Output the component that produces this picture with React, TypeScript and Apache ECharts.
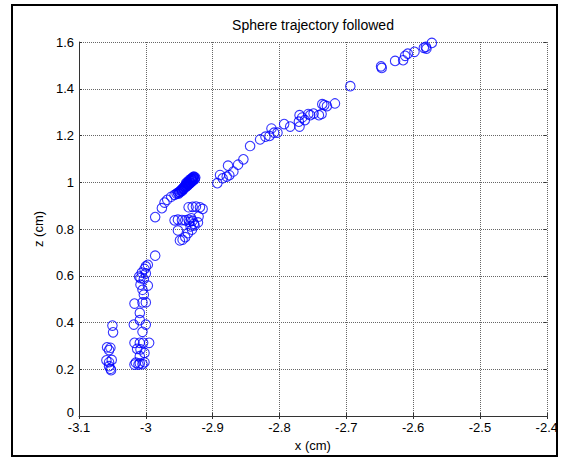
import React, { useEffect, useRef } from "react";
import * as echarts from "echarts";

const titleText = "Sphere trajectory followed";
const xName = "x (cm)";
const zName = "z (cm)";

const xValues: number[] = [
  -2.572, -2.581, -2.584, -2.580, -2.598, -2.608, -2.612, -2.615, -2.627, -2.648, -2.647,
  -2.694, -2.717, -2.729, -2.733, -2.736, -2.737, -2.741, -2.749, -2.754, -2.757, -2.762,
  -2.766, -2.770, -2.771, -2.770, -2.784, -2.793, -2.803, -2.808, -2.812, -2.815, -2.821,
  -2.829, -2.844, -2.854, -2.862, -2.869, -2.877, -2.875, -2.879, -2.885, -2.889, -2.893,
  -2.928, -2.929, -2.930, -2.931, -2.932, -2.933, -2.934, -2.935, -2.936, -2.937, -2.938,
  -2.939, -2.940, -2.941, -2.942, -2.943, -2.944, -2.945, -2.946, -2.947, -2.948, -2.950,
  -2.952, -2.954, -2.957, -2.926, -2.927, -2.930, -2.933, -2.936, -2.939, -2.943,
  -2.927, -2.929, -2.931, -2.934, -2.936, -2.938, -2.941, -2.944, -2.946, -2.949, -2.951,
  -2.929, -2.932, -2.935, -2.938, -2.940,
  -2.962, -2.968, -2.972, -2.976, -2.986,
  -2.936, -2.930, -2.925, -2.919, -2.915, -2.921, -2.922, -2.928, -2.957, -2.952, -2.946,
  -2.941, -2.936, -2.930, -2.933, -2.931, -2.952, -2.937, -2.941, -2.945, -2.949, -2.935,
  -2.932, -2.927,
  -2.986, -2.997, -3.000, -3.002, -3.006, -3.000, -3.008, -3.003, -3.010, -3.008, -2.997,
  -3.005, -3.003, -3.017, -3.005, -3.000, -3.009, -3.018, -3.009, -3.000, -3.005, -3.017,
  -3.009, -3.004, -2.995, -3.013, -3.008, -3.002, -3.009, -3.015, -3.009, -3.002, -3.017,
  -3.011, -3.005,
  -3.050, -3.049, -3.058, -3.053, -3.055, -3.059, -3.051, -3.055, -3.055, -3.053, -3.052,
];

const zValues: number[] = [
  1.596, 1.579, 1.575, 1.572, 1.558, 1.550, 1.541, 1.522, 1.519, 1.496, 1.489,
  1.411, 1.337, 1.326, 1.330, 1.334, 1.292, 1.287, 1.294, 1.287, 1.292, 1.266,
  1.277, 1.287, 1.259, 1.238, 1.238, 1.249, 1.212, 1.212, 1.230, 1.198, 1.195,
  1.183, 1.155, 1.098, 1.075, 1.046, 1.071, 1.030, 1.024, 1.017, 1.031, 0.996,
  1.024, 1.020, 1.018, 1.014, 1.012, 1.008, 1.005, 1.002, 0.999, 0.996, 0.993,
  0.990, 0.987, 0.984, 0.981, 0.978, 0.975, 0.972, 0.969, 0.966, 0.963, 0.959,
  0.955, 0.951, 0.946, 1.020, 1.012, 1.006, 0.998, 0.990, 0.982, 0.972,
  1.016, 1.010, 1.004, 0.996, 0.993, 0.985, 0.979, 0.970, 0.963, 0.957, 0.951,
  1.022, 1.016, 1.009, 1.001, 0.995,
  0.938, 0.925, 0.913, 0.889, 0.851,
  0.893, 0.895, 0.896, 0.893, 0.886, 0.853, 0.828, 0.822, 0.837, 0.840, 0.838,
  0.837, 0.840, 0.835, 0.811, 0.797, 0.794, 0.782, 0.765, 0.754, 0.751, 0.830,
  0.846, 0.815,
  0.686, 0.647, 0.640, 0.629, 0.613, 0.610, 0.590, 0.586, 0.596, 0.562, 0.558,
  0.540, 0.519, 0.481, 0.486, 0.486, 0.441, 0.391, 0.410, 0.391, 0.360, 0.313,
  0.313, 0.313, 0.313, 0.287, 0.285, 0.270, 0.256, 0.228, 0.225, 0.230, 0.220,
  0.220, 0.222,
  0.387, 0.358, 0.294, 0.292, 0.282, 0.238, 0.240, 0.230, 0.213, 0.202, 0.196,
];

const xTicks = { min: -3.1, max: -2.4, step: 0.1 };
const zTicks = { min: 0, max: 1.6, step: 0.2 };

const fontFamily = "'Liberation Sans', Arial, sans-serif";
const fontSize = 13;

export default function App() {
  const ref = useRef<HTMLDivElement>(null);
  useEffect(() => {
    if (!ref.current) return;
    const chart = echarts.init(ref.current, undefined, { renderer: "svg" });
    const data = xValues.map((x, i) => [x, zValues[i]]);
    const fmt = (v: number) => String(Math.round(v * 10) / 10);
    const fmtZ = (v: number) => {
      const s = fmt(v);
      return Math.abs(v) < 1e-9 ? `{zero|${s}}` : s;
    };
    chart.setOption({
      animation: false,
      backgroundColor: "#ffffff",
      grid: { left: 79, top: 42, right: 12, bottom: 44, containLabel: false },
      xAxis: [
        {
          type: "value",
          min: xTicks.min,
          max: xTicks.max,
          interval: xTicks.step,
          name: xName,
          nameLocation: "middle",
          nameGap: 23,
          nameTextStyle: { fontFamily, fontSize, color: "#000" },
          axisLine: { show: true, onZero: false, lineStyle: { color: "#333", width: 1 } },
          axisTick: { show: true, inside: true, length: 3, lineStyle: { color: "#333" } },
          axisLabel: { fontFamily, fontSize, color: "#000", margin: 5, formatter: fmt },
          splitLine: { show: true, lineStyle: { color: "#666", type: "dotted", width: 1 } },
        },
        {
          type: "value",
          position: "top",
          min: xTicks.min,
          max: xTicks.max,
          interval: xTicks.step,
          axisLine: { show: false },
          axisTick: { show: true, inside: true, length: 3, lineStyle: { color: "#333" } },
          axisLabel: { show: false },
          splitLine: { show: false },
        },
      ],
      yAxis: [
        {
          type: "value",
          min: zTicks.min,
          max: zTicks.max,
          interval: zTicks.step,
          name: zName,
          nameLocation: "middle",
          nameGap: 32,
          nameTextStyle: { fontFamily, fontSize, color: "#000" },
          axisLine: { show: true, onZero: false, lineStyle: { color: "#333", width: 1 } },
          axisTick: { show: true, inside: true, length: 3, lineStyle: { color: "#333" } },
          axisLabel: {
            fontFamily,
            fontSize,
            color: "#000",
            margin: 5,
            formatter: fmtZ,
            rich: {
              zero: { fontFamily, fontSize, color: "#000", padding: [0, 0, 7, 0] },
            },
          },
          splitLine: { show: true, lineStyle: { color: "#666", type: "dotted", width: 1 } },
        },
        {
          type: "value",
          position: "right",
          min: zTicks.min,
          max: zTicks.max,
          interval: zTicks.step,
          axisLine: { show: false },
          axisTick: { show: true, inside: true, length: 3, lineStyle: { color: "#333" } },
          axisLabel: { show: false },
          splitLine: { show: false },
        },
      ],
      series: [
        {
          type: "scatter",
          xAxisIndex: 0,
          yAxisIndex: 0,
          data,
          symbol: "circle",
          symbolSize: 9.5,
          itemStyle: { color: "rgba(0,0,0,0)", borderColor: "#0000ff", borderWidth: 1.1 },
          emphasis: { disabled: true },
        },
      ],
      graphic: [
        {
          type: "text",
          x: 313,
          y: 25,
          z: 50,
          style: {
            text: titleText,
            fontFamily,
            fontSize: 14,
            fill: "#000",
            textAlign: "center",
            textVerticalAlign: "middle",
          },
        },
        {
          type: "rect",
          z: 100,
          shape: { x: 558, y: 0, width: 10, height: 460 },
          style: { fill: "#ffffff" },
        },
        {
          type: "rect",
          z: 101,
          shape: { x: 12, y: 5, width: 545, height: 451 },
          style: { fill: "none", stroke: "#000", lineWidth: 2 },
        },
      ],
    });
    return () => chart.dispose();
  }, []);
  return (
    <div
      ref={ref}
      style={{ position: "fixed", left: 0, top: 0, width: 561, height: 460 }}
    />
  );
}
